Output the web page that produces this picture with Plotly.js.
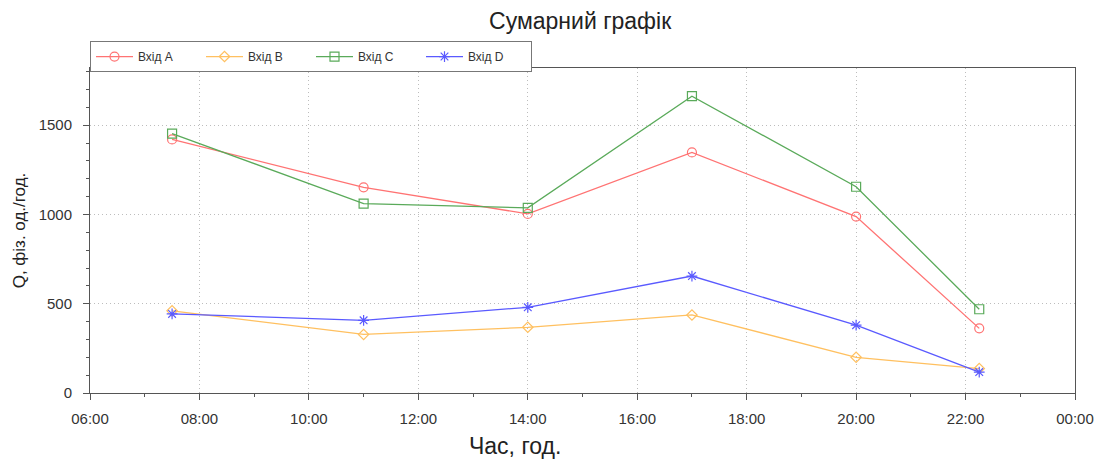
<!DOCTYPE html>
<html>
<head>
<meta charset="utf-8">
<script src="https://cdn.plot.ly/plotly-3.0.1.min.js"></script>
<style>html,body{margin:0;padding:0;background:#fff;}#chart{width:1103px;height:461px;}</style>
</head>
<body>
<div id="chart"></div>
<script>
const times = ['2000-01-01 07:30','2000-01-01 11:00','2000-01-01 14:00','2000-01-01 17:00','2000-01-01 20:00','2000-01-01 22:15'];
const seriesNames = ['Вхід A','Вхід B','Вхід C','Вхід D'];
const vhidA = [1420, 1152, 1003, 1347, 988, 362];
const vhidB = [460, 328, 368, 437, 200, 137];
const vhidC = [1453, 1060, 1037, 1662, 1155, 469];
const vhidD = [443, 407, 480, 655, 380, 117];
const xTickRange = ['2000-01-01 06:00','2000-01-02 00:00'];
const xTitle = 'Час, год.';
const yTitle = 'Q, фіз. од./год.';
const chartTitle = 'Сумарний графік';

const styles = [
  {color:'#ff7373', symbol:'circle-open', size:9},
  {color:'#ffc060', symbol:'diamond-open', size:8},
  {color:'#5aaa5a', symbol:'square-open', size:9},
  {color:'#5a5aff', symbol:'asterisk-open', size:9}
];
const values = [vhidA, vhidB, vhidC, vhidD];
const traces = values.map((v,i)=>({
  x: times, y: v, name: seriesNames[i], type:'scatter', mode:'lines+markers',
  line:{color:styles[i].color, width:1.3},
  marker:{symbol:styles[i].symbol, size:styles[i].size, color:styles[i].color, line:{color:styles[i].color, width:1.2}}
}));

const layout = {
  width:1103, height:461,
  margin:{l:90, r:28, t:68, b:68},
  paper_bgcolor:'#fff', plot_bgcolor:'#fff',
  font:{family:'Liberation Sans, Arial, sans-serif', color:'#333', size:14},
  title:{text:chartTitle, x:0.526, xanchor:'center', y:0.954, yanchor:'middle', font:{size:23, color:'#222'}},
  showlegend:true,
  legend:{orientation:'h', x:0, xanchor:'left', y:1.083, yanchor:'top', bgcolor:'#fff', bordercolor:'#777', borderwidth:1,
          font:{size:12, color:'#333'}, entrywidth:58, itemwidth:37, tracegroupgap:0},
  xaxis:{
    type:'date', range:xTickRange, tickformat:'%H:%M', dtick:7200000,
    tick0:'2000-01-01 06:00',
    showgrid:true, gridcolor:'#bdbdbd', griddash:'1px,3px', gridwidth:1,
    showline:true, linecolor:'#555', linewidth:1, mirror:true,
    ticks:'outside', ticklen:6, tickcolor:'#555', ticklabelstandoff:6,
    minor:{dtick:3600000, ticklen:3, tickcolor:'#555', showgrid:false},
    tickfont:{size:15, color:'#333'},
    zeroline:false
  },
  yaxis:{
    range:[0,1820], dtick:500,
    showgrid:true, gridcolor:'#bdbdbd', griddash:'1px,3px', gridwidth:1,
    showline:true, linecolor:'#555', linewidth:1, mirror:true,
    ticks:'outside', ticklen:6, tickcolor:'#555', ticklabelstandoff:8,
    minor:{dtick:100, ticklen:3, tickcolor:'#555', showgrid:false},
    tickfont:{size:15, color:'#333'},
    zeroline:false,
    title:{text:yTitle, font:{size:17, color:'#222'}, standoff:8}
  },
  annotations:[
    {text:xTitle, xref:'paper', yref:'paper', x:0.4315, y:-0.163, xanchor:'center', yanchor:'middle',
     showarrow:false, font:{size:23, color:'#222'}}
  ]
};
Plotly.newPlot('chart', traces, layout, {displayModeBar:false, staticPlot:true});
</script>
</body>
</html>
